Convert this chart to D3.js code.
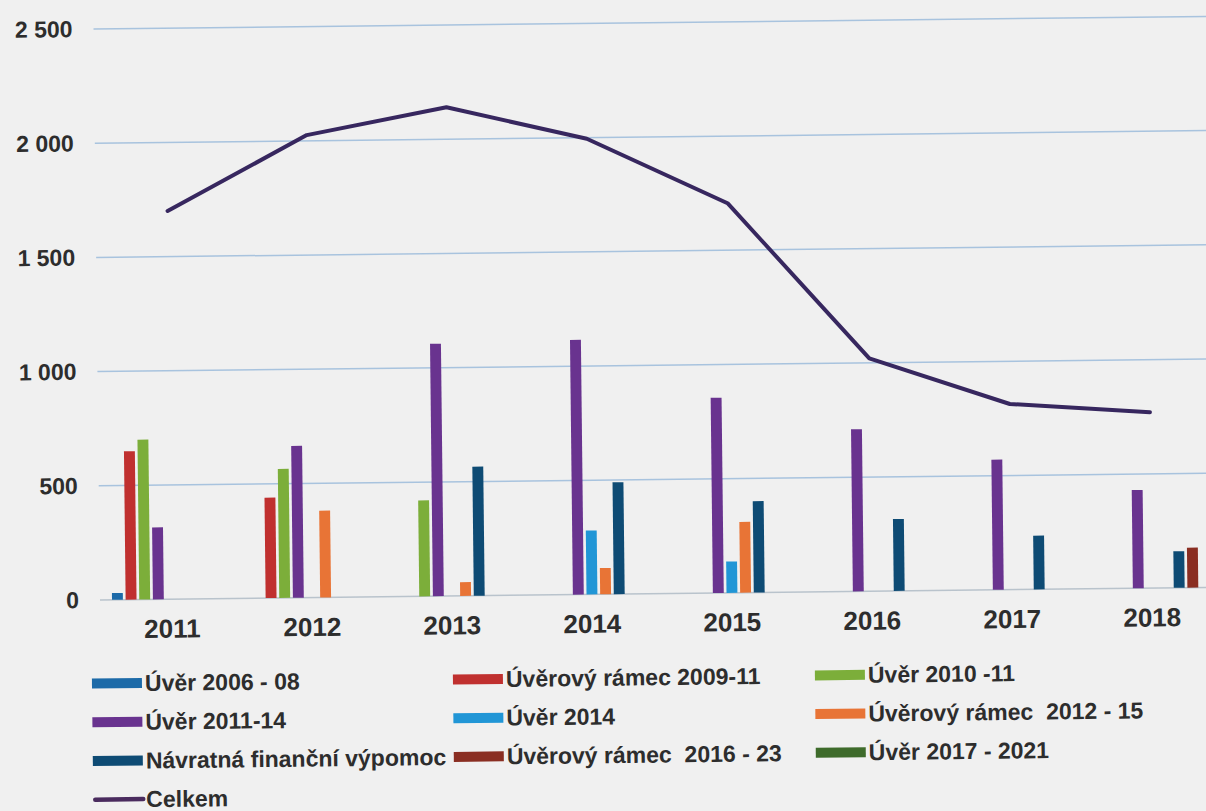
<!DOCTYPE html>
<html>
<head>
<meta charset="utf-8">
<script src="https://cdn.jsdelivr.net/npm/d3@7"></script>
<style>
  html, body { margin: 0; padding: 0; background: #f0f0f0; }
  svg { display: block; }
  text { font-family: "Liberation Sans", Arial, sans-serif; font-weight: bold; fill: #2d2d2d; white-space: pre; }
</style>
</head>
<body>
<script>
// categories
var YEARS = ['2011', '2012', '2013', '2014', '2015', '2016', '2017', '2018'];
var Y_TICKS = [0, 500, 1000, 1500, 2000, 2500];

// series
var SERIES = [
  'Úvěr 2006 - 08',
  'Úvěrový rámec 2009-11',
  'Úvěr 2010 -11',
  'Úvěr 2011-14',
  'Úvěr 2014',
  'Úvěrový rámec  2012 - 15',
  'Návratná finanční výpomoc',
  'Úvěrový rámec  2016 - 23',
  'Úvěr 2017 - 2021'
];
var uver0608    = [30,   0,    0,    0,    0,   0,   0,   0];
var ramec0911   = [650,  440,  0,    0,    0,   0,   0,   0];
var uver1011    = [700,  565,  420,  0,    0,   0,   0,   0];
var uver1114    = [315,  665,  1105, 1115, 855, 710, 570, 430];
var uver2014    = [0,    0,    0,    280,  137, 0,   0,   0];
var ramec1215   = [0,    380,  60,   115,  310, 0,   0,   0];
var vypomoc     = [0,    0,    565,  490,  400, 315, 235, 160];
var ramec1623   = [0,    0,    0,    0,    0,   0,   0,   175];
var uver1721    = [0,    0,    0,    0,    0,   0,   0,   0];
var celkem      = [1700, 2025, 2140, 1995, 1706, 1020, 813, 770];

var VALUES = [uver0608, ramec0911, uver1011, uver1114, uver2014, ramec1215, vypomoc, ramec1623, uver1721];
var COLORS = ['#1c6aa8', '#c0302f', '#7cae3a', '#69338f', '#2196d6', '#e87436', '#0e4b74', '#8a2e22', '#3e6b2b'];
var LINE_COLOR = '#37275f';

var W = 1206, H = 811;

var svg = d3.select('body').append('svg').attr('width', W).attr('height', H);
svg.append('rect').attr('width', W).attr('height', H).attr('fill', '#f0f0f0');

// the scan is slightly tilted, so the whole chart is turned a bit
var chart = svg.append('g').attr('transform', 'rotate(-0.65,100,600)');

var y = d3.scaleLinear().domain([0, 2500]).range([600, 29]);
var x0 = d3.scaleBand().domain(YEARS).range([102, 1222]);
var x1 = d3.scaleBand().domain(d3.range(SERIES.length)).range([10, 130]).paddingInner(0.2);

var fmt = d3.formatLocale({ decimal: ',', thousands: ' ', grouping: [3], currency: ['', ''] }).format(',');

// gridlines
chart.append('g').attr('class', 'grid').selectAll('line')
  .data(Y_TICKS)
  .enter()
  .append('line')
  .attr('x1', 100)
  .attr('x2', 1240)
  .attr('y1', d => y(d))
  .attr('y2', d => y(d))
  .attr('stroke', d => d === 0 ? '#b9c3cc' : '#a8c3de')
  .attr('stroke-width', 1.5);

// y axis
var yAxis = chart.append('g')
  .attr('transform', 'translate(100,0)')
  .call(d3.axisLeft(y).tickValues(Y_TICKS).tickSize(0).tickPadding(21).tickFormat(fmt));
yAxis.select('.domain').remove();
yAxis.selectAll('text').style('font-size', '23px').attr('fill', '#2d2d2d');

// x axis
var xAxis = chart.append('g')
  .attr('transform', 'translate(0,600)')
  .call(d3.axisBottom(x0).tickSize(0).tickPadding(20));
xAxis.select('.domain').remove();
xAxis.selectAll('text').style('font-size', '26px').attr('fill', '#2d2d2d');

// bars
var groups = chart.append('g').attr('class', 'bars').selectAll('g')
  .data(YEARS)
  .enter()
  .append('g')
  .attr('transform', d => 'translate(' + x0(d) + ',0)');

groups.selectAll('rect')
  .data((d, i) => VALUES.map((v, s) => ({ s: s, v: v[i] })).filter(e => e.v > 0))
  .enter()
  .append('rect')
  .attr('x', d => x1(d.s))
  .attr('width', x1.bandwidth())
  .attr('y', d => y(d.v))
  .attr('height', d => y(0) - y(d.v))
  .attr('fill', d => COLORS[d.s]);

// total line
var line = d3.line()
  .x((d, i) => x0(YEARS[i]) + x0.bandwidth() / 2)
  .y(d => y(d));

chart.append('path')
  .datum(celkem)
  .attr('d', line)
  .attr('fill', 'none')
  .attr('stroke', LINE_COLOR)
  .attr('stroke-width', 4)
  .attr('stroke-linejoin', 'round')
  .attr('stroke-linecap', 'round');

// legend
var LEG_X = [91, 452, 814];
var LEG_Y0 = 683.5, LEG_DY = 38.7;

var legend = chart.append('g').attr('class', 'legend');
var items = legend.selectAll('g')
  .data(SERIES)
  .enter()
  .append('g')
  .attr('transform', (d, i) => 'translate(' + LEG_X[i % 3] + ',' + (LEG_Y0 + Math.floor(i / 3) * LEG_DY) + ')');
items.append('rect')
  .attr('x', 0)
  .attr('y', -5)
  .attr('width', 50)
  .attr('height', 10)
  .attr('fill', (d, i) => COLORS[i]);
items.append('text')
  .attr('x', 53)
  .attr('dominant-baseline', 'central')
  .style('font-size', '23px')
  .text(d => d);

var tot = legend.append('g')
  .attr('transform', 'translate(' + LEG_X[0] + ',' + (LEG_Y0 + 3 * LEG_DY) + ')');
tot.append('line')
  .attr('x1', 2).attr('x2', 50)
  .attr('y1', 0).attr('y2', 0)
  .attr('stroke', '#4a2b5e')
  .attr('stroke-width', 4.5)
  .attr('stroke-linecap', 'round');
tot.append('text')
  .attr('x', 53)
  .attr('dominant-baseline', 'central')
  .style('font-size', '23px')
  .text('Celkem');
</script>
</body>
</html>
